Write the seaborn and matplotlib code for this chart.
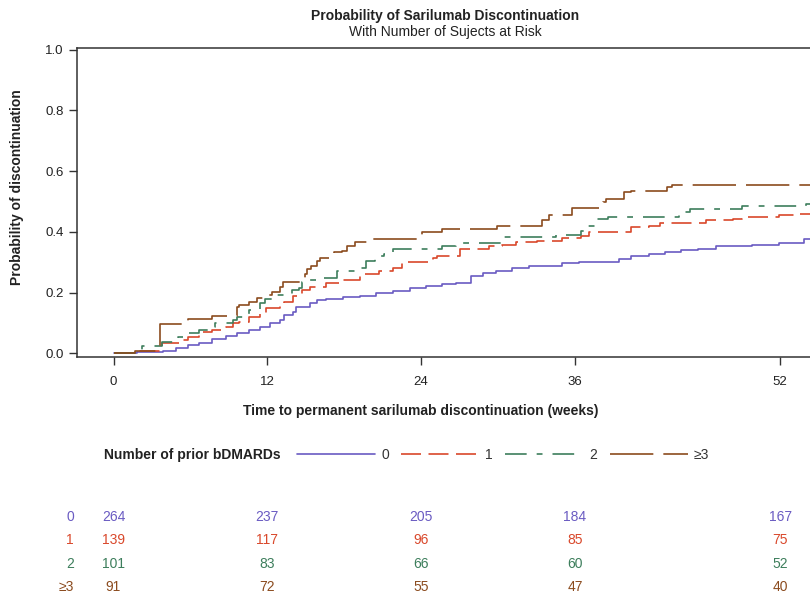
import numpy as np
import pandas as pd
import matplotlib
matplotlib.use("Agg")
import matplotlib.pyplot as plt
import seaborn as sns
from matplotlib.lines import Line2D
from matplotlib.transforms import blended_transform_factory

# ---------------- data ----------------
groups = ["0", "1", "2", "≥3"]
colors = ["#6A5BC2", "#D9482B", "#3D7E5C", "#8B4B1E"]

t_0 = [0, 1.8, 3.9, 4.9, 5.8, 6.7, 7.7, 8.8, 9.6, 10.6, 11.4, 12.2, 13.0, 13.3, 14.0, 14.2,
       15.3, 15.9, 16.6, 17.9, 19.2, 20.5, 21.8, 23.1, 24.4, 25.6, 26.7, 27.9, 28.8, 29.8,
       31.1, 32.4, 33.7, 35.0, 36.3, 39.4, 40.4, 41.8, 43.0, 44.3, 45.6, 47.0, 49.8, 51.9,
       53.9, 56.0]
p_0 = [0, 0.003, 0.007, 0.017, 0.027, 0.033, 0.046, 0.056, 0.066, 0.076, 0.086, 0.10, 0.11,
       0.126, 0.136, 0.153, 0.165, 0.176, 0.18, 0.186, 0.19, 0.20, 0.206, 0.216, 0.223, 0.228,
       0.232, 0.256, 0.266, 0.27, 0.28, 0.286, 0.289, 0.296, 0.30, 0.312, 0.32, 0.326, 0.332,
       0.339, 0.345, 0.352, 0.355, 0.362, 0.378, 0.378]

t_1 = [0, 1.8, 3.8, 5.2, 5.8, 6.7, 7.0, 7.7, 8.8, 9.3, 9.8, 10.6, 11.4, 11.9, 13.0, 13.3,
       14.0, 14.7, 15.3, 16.6, 17.6, 19.2, 20.7, 21.8, 22.5, 24.9, 25.2, 27.0, 29.3, 30.3,
       31.4, 33.0, 35.0, 36.5, 37.1, 40.4, 41.8, 42.6, 46.2, 48.3, 49.0, 51.9, 53.4, 56.0]
p_1 = [0, 0.007, 0.033, 0.043, 0.053, 0.063, 0.07, 0.076, 0.086, 0.10, 0.103, 0.12, 0.133,
       0.15, 0.16, 0.17, 0.19, 0.21, 0.22, 0.232, 0.243, 0.26, 0.27, 0.28, 0.30, 0.315, 0.32,
       0.342, 0.352, 0.358, 0.365, 0.369, 0.379, 0.386, 0.40, 0.415, 0.42, 0.428, 0.439,
       0.442, 0.448, 0.455, 0.458, 0.458]

t_2 = [0, 2.2, 3.8, 5.0, 5.8, 6.7, 7.7, 7.9, 9.3, 9.6, 10.6, 11.4, 11.8, 12.4, 13.9, 14.5,
       14.7, 15.3, 16.1, 17.4, 18.9, 19.7, 20.4, 21.1, 21.8, 25.6, 26.7, 30.2, 34.5, 36.5,
       36.7, 37.6, 38.6, 44.1, 45.0, 49.0, 54.0, 56.0]
p_2 = [0, 0.023, 0.037, 0.053, 0.066, 0.076, 0.086, 0.10, 0.11, 0.12, 0.143, 0.166, 0.18,
       0.193, 0.21, 0.216, 0.236, 0.243, 0.249, 0.27, 0.28, 0.303, 0.319, 0.326, 0.345, 0.352,
       0.362, 0.382, 0.389, 0.402, 0.419, 0.442, 0.448, 0.465, 0.475, 0.485, 0.49, 0.49]

t_3 = [0, 1.7, 3.6, 5.8, 7.7, 9.6, 9.8, 10.6, 11.2, 11.9, 12.4, 13.0, 13.2, 14.9, 15.1, 15.4,
       15.9, 16.1, 17.2, 17.8, 18.2, 18.8, 20.2, 24.1, 25.6, 29.9, 33.4, 34.0, 35.8, 38.2,
       38.4, 39.8, 40.4, 43.2, 43.6, 56.0]
p_3 = [0, 0.007, 0.096, 0.113, 0.123, 0.153, 0.16, 0.17, 0.183, 0.193, 0.203, 0.22, 0.236,
       0.26, 0.276, 0.286, 0.303, 0.315, 0.332, 0.336, 0.352, 0.365, 0.375, 0.40, 0.41, 0.42,
       0.44, 0.455, 0.478, 0.498, 0.508, 0.53, 0.535, 0.548, 0.555, 0.555]

x_ticks = [0, 12, 24, 36, 52]
y_ticks = [0.0, 0.2, 0.4, 0.6, 0.8, 1.0]
risk_0 = [264, 237, 205, 184, 167]
risk_1 = [139, 117, 96, 85, 75]
risk_2 = [101, 83, 66, 60, 52]
risk_3 = [91, 72, 55, 47, 40]

times = [t_0, t_1, t_2, t_3]
probs = [p_0, p_1, p_2, p_3]
risks = [risk_0, risk_1, risk_2, risk_3]

df = pd.concat(
    [pd.DataFrame({"week": t, "prob": p, "group": g}) for g, t, p in zip(groups, times, probs)],
    ignore_index=True,
)

# ---------------- style ----------------
sns.set_style("ticks")
plt.rcParams["font.family"] = ["Liberation Sans", "DejaVu Sans"]
plt.rcParams["axes.edgecolor"] = "#333333"
plt.rcParams["xtick.color"] = "#333333"
plt.rcParams["ytick.color"] = "#333333"

W, H = 810, 599
fig = plt.figure(figsize=(W / 100, H / 100), dpi=100)

px_per_wk = 12.82
x0_px = 113.5
ax_left, ax_right = 77, 820
ax_top, ax_bot = 48, 357
ax = fig.add_axes([ax_left / W, 1 - ax_bot / H, (ax_right - ax_left) / W, (ax_bot - ax_top) / H])

palette = dict(zip(groups, colors))
dash_map = {"0": "", "1": (12, 4.5), "2": (13, 6, 3.5, 6), "≥3": (26, 6)}

sns.lineplot(
    data=df, x="week", y="prob", hue="group", style="group",
    palette=palette, dashes=dash_map, drawstyle="steps-post",
    estimator=None, legend=False, linewidth=1.2, ax=ax,
)

ax.set_xlim((ax_left - x0_px) / px_per_wk, (ax_right - x0_px) / px_per_wk)
ax.set_ylim(-0.012, 1.005)
ax.set_xticks(x_ticks)
ax.set_yticks(y_ticks)
ax.set_yticklabels([f"{v:.1f}" for v in y_ticks])
ax.tick_params(axis="both", direction="out", length=6, width=1, labelsize=9.5,
               labelcolor="#222222")
ax.tick_params(axis="x", pad=8)
ax.set_xlabel("")
ax.set_ylabel("")
for s in ["left", "bottom", "top"]:
    ax.spines[s].set_linewidth(1.1)
ax.spines["right"].set_visible(False)

# titles and labels
fig.text(445 / W, 1 - 16 / H, "Probability of Sarilumab Discontinuation", ha="center",
         va="center", fontsize=10, fontweight="bold", color="#222222")
fig.text(445 / W, 1 - 32 / H, "With Number of Sujects at Risk", ha="center", va="center",
         fontsize=10, color="#222222")
fig.text(17 / W, 1 - 187 / H, "Probability of discontinuation", rotation=90, ha="center",
         va="center", fontsize=10, fontweight="bold", color="#222222")
fig.text(421 / W, 1 - 411 / H, "Time to permanent sarilumab discontinuation (weeks)",
         ha="center", va="center", fontsize=10, fontweight="bold", color="#222222")

# legend
fig.text(104 / W, 1 - 455 / H, "Number of prior bDMARDs", ha="left", va="center",
         fontsize=10, fontweight="bold", color="#222222")
handles = []
for g, c in zip(groups, colors):
    d = dash_map[g]
    ls = "-" if d == "" else (0, d)
    handles.append(Line2D([], [], color=c, lw=1.2, linestyle=ls))
fig.legend(handles, groups, loc="center left", bbox_to_anchor=(297 / W, 1 - 455 / H),
           ncol=4, frameon=False, borderpad=0, borderaxespad=0, handlelength=5.6,
           handletextpad=0.45, columnspacing=0.9, fontsize=10, labelcolor="#333333")

# number at risk table
trans = blended_transform_factory(ax.transData, fig.transFigure)
row_y = [517, 540, 564, 587]
for g, c, r, yy in zip(groups, colors, risks, row_y):
    fig.text(74 / W, 1 - yy / H, g, ha="right", va="center", fontsize=10, color=c)
    for xv, n in zip(x_ticks, r):
        ax.text(xv, 1 - yy / H, str(n), transform=trans, ha="center", va="center",
                fontsize=10, color=c, clip_on=False)

fig.savefig("out.png", dpi=100)
